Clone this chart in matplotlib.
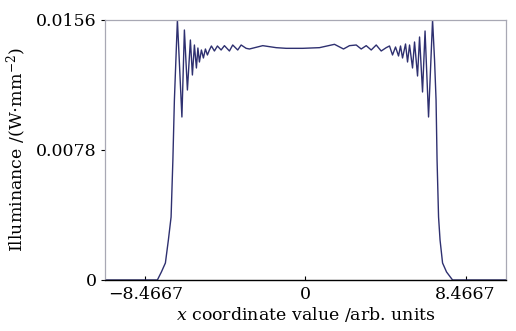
import numpy as np
import matplotlib
matplotlib.use("Agg")
from matplotlib import pyplot as plt

# illuminance profile (x in arb. units, E in W/mm^2)
x_coord = [-10.6, -7.831, -7.619, -7.407, -7.249, -7.106, -7.011, -6.931, -6.852,
           -6.772, -6.534, -6.402, -6.243, -6.085, -5.979, -5.873, -5.767, -5.688,
           -5.608, -5.503, -5.397, -5.291, -5.185, -5.079, -4.974, -4.815, -4.656,
           -4.460, -4.286, -4.021, -3.847, -3.582, -3.402, -3.138, -2.963, -2.259,
           -1.550, -1.021, -0.143, 0.741, 1.534, 2.011, 2.328, 2.683, 2.947, 3.212,
           3.476, 3.741, 4.005, 4.270, 4.444, 4.603, 4.762, 4.921, 5.026, 5.132,
           5.291, 5.397, 5.503, 5.661, 5.767, 5.926, 6.032, 6.190, 6.323, 6.508,
           6.720, 6.825, 6.905, 6.958, 7.037, 7.116, 7.249, 7.460, 7.619, 7.778, 10.6]
illum = [0.0, 0.0, 0.00048, 0.00102, 0.0024, 0.00378, 0.0072, 0.0108, 0.0132,
         0.0156, 0.00978, 0.0150, 0.0114, 0.0144, 0.0123, 0.0141, 0.01272, 0.01392,
         0.01308, 0.0138, 0.01332, 0.01386, 0.0135, 0.0138, 0.01404, 0.01374, 0.01404,
         0.0138, 0.01406, 0.01374, 0.0141, 0.0138, 0.0141, 0.0139, 0.01386, 0.01406,
         0.01394, 0.0139, 0.0139, 0.01394, 0.01414, 0.01386, 0.01406, 0.0141, 0.01386,
         0.01406, 0.0138, 0.0141, 0.01374, 0.01394, 0.01404, 0.0135, 0.01398, 0.01344,
         0.01404, 0.01332, 0.01416, 0.01308, 0.0141, 0.01272, 0.01428, 0.01224, 0.01458,
         0.01128, 0.01494, 0.00978, 0.0156, 0.0132, 0.0108, 0.0072, 0.00378, 0.0024,
         0.00102, 0.00048, 0.00024, 0.0, 0.0]

xticks = [-8.4667, 0, 8.4667]
xtick_labels = ["\u22128.4667", "0", "8.4667"]
yticks = [0, 0.0078, 0.0156]
ytick_labels = ["0", "0.0078", "0.0156"]

plt.rcParams['font.family'] = 'DejaVu Serif'
plt.rcParams['mathtext.fontset'] = 'dejavuserif'
plt.rcParams['font.size'] = 12.5

fig = plt.figure(figsize=(5.16, 3.31), dpi=100)
ax = fig.add_axes([0.2035, 0.1541, 0.777, 0.7855])

ax.plot(x_coord, illum, color='#2e3070', lw=1.0)

ax.set_xlim(-10.6, 10.6)
ax.set_ylim(0, 0.0156)
ax.set_xticks(xticks)
ax.set_xticklabels(xtick_labels)
ax.set_yticks(yticks)
ax.set_yticklabels(ytick_labels)
ax.tick_params(axis='x', direction='in', length=3, pad=4)
ax.tick_params(axis='y', direction='out', length=3, pad=3)

for s in ['left', 'top', 'right']:
    ax.spines[s].set_color('#a8a8b4')
    ax.spines[s].set_linewidth(0.9)
ax.spines['bottom'].set_color('black')
ax.spines['bottom'].set_linewidth(1.0)

ax.set_xlabel(r'$x$ coordinate value /arb. units', labelpad=2)
ax.set_ylabel(r'Illuminance /(W$\cdot$mm$^{-2}$)', labelpad=5)

plt.savefig("out.png", dpi=100)
